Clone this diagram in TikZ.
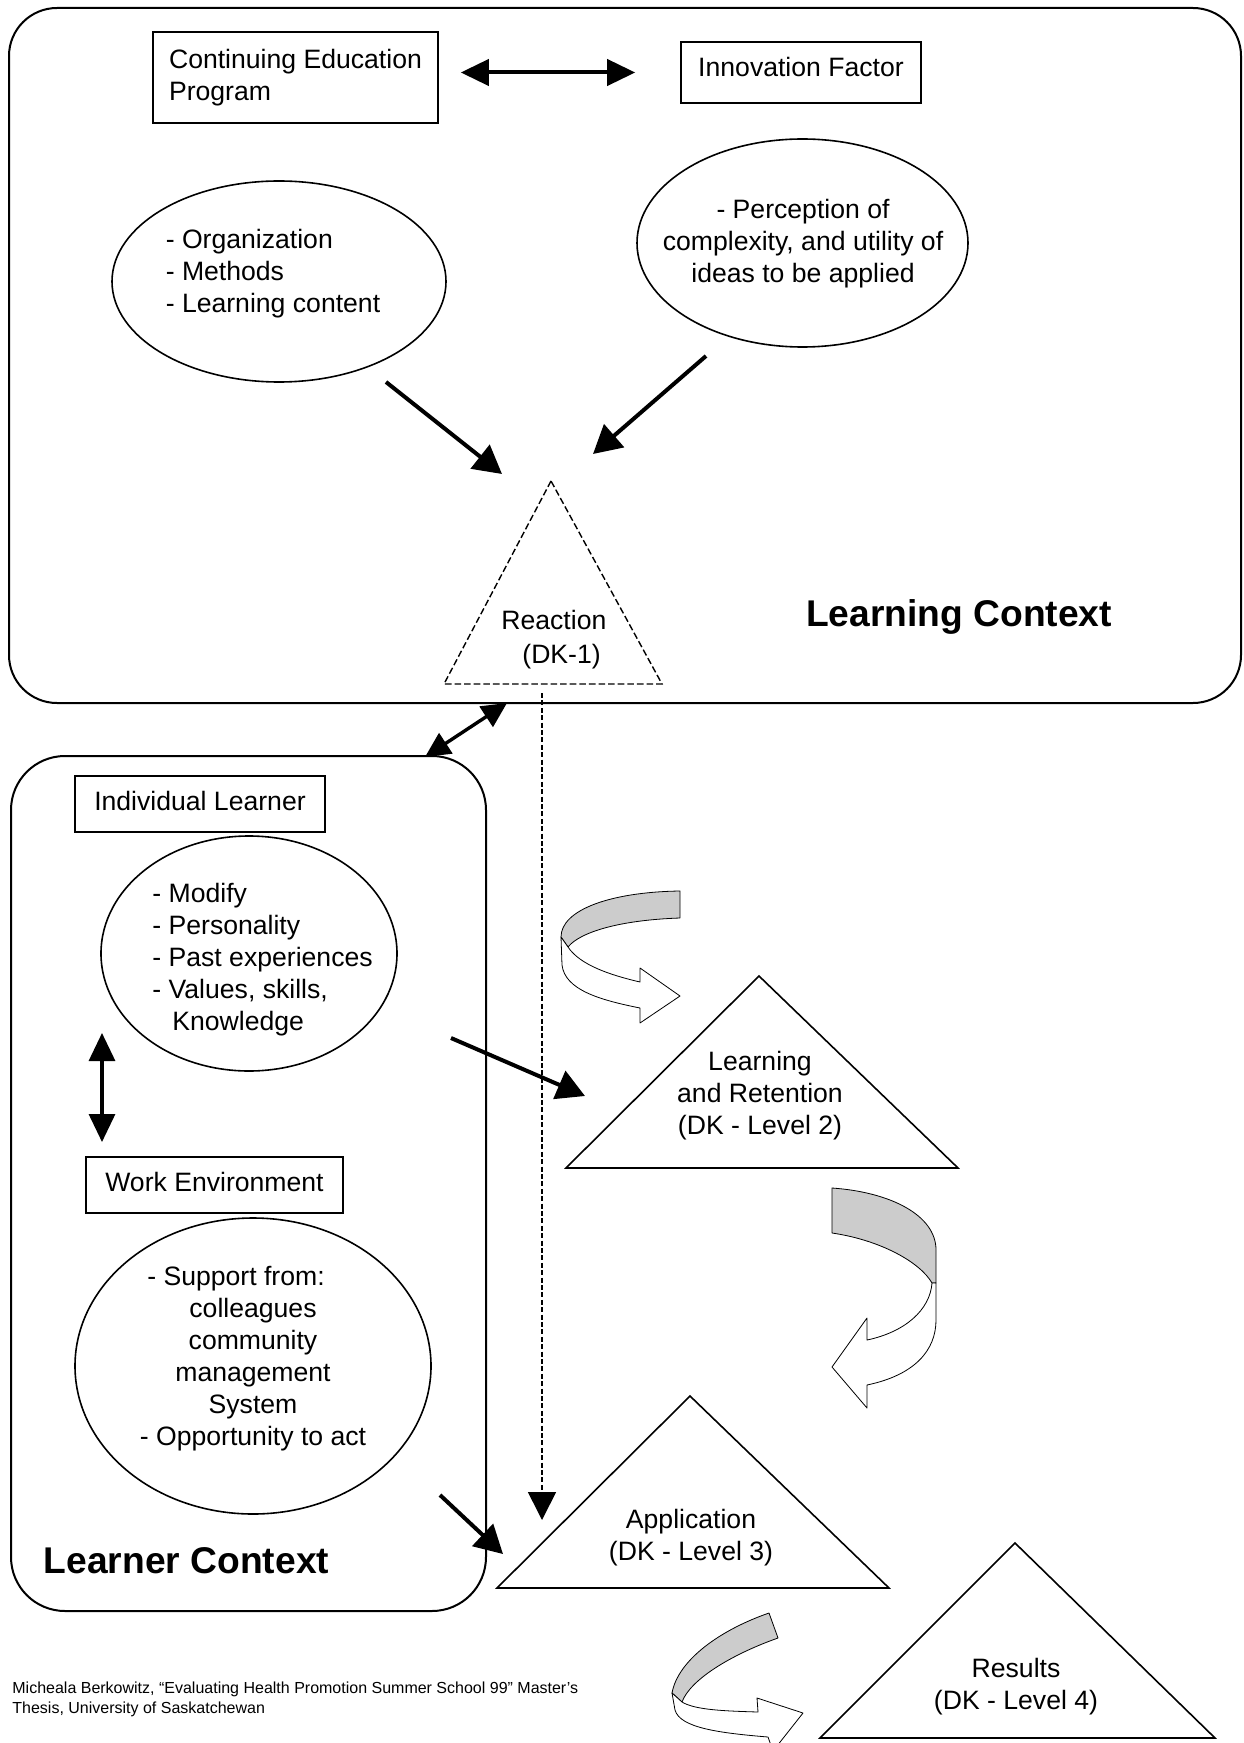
\documentclass[tikz,border=0pt]{standalone}
\usepackage{fontspec}
\setmainfont{Liberation Sans}
\usetikzlibrary{arrows.meta}
\usetikzlibrary{shapes.geometric}
\definecolor{ribbongray}{gray}{0.8}

\begin{document}
\begin{tikzpicture}[x=0.5pt, y=-0.5pt,
	font=\fontsize{13.3pt}{16pt}\selectfont,
	every node/.style={inner sep=0pt},
	ctxframe/.style={draw, line width=1pt},
	labelbox/.style={draw, line width=0.8pt, rectangle, text depth=3pt},
	oval/.style={draw, line width=0.8pt, ellipse},
	ctxtitle/.style={font=\fontsize{18.6pt}{22pt}\selectfont\bfseries},
	tri/.style={draw, line width=0.8pt},
	flow/.style={line width=2pt, -{Triangle[length=14pt, width=15pt]}},
	twoway/.style={line width=2pt, {Triangle[length=14pt, width=13pt]}-{Triangle[length=14pt, width=13pt]}},
	ribbon/.style={draw, line width=0.4pt, line join=round}]

	\useasboundingbox (0,0) rectangle (1243,1743);

	% the two contexts
	\node[ctxframe, rounded corners=24pt, minimum width=616pt, minimum height=347.5pt] (learning) at (625,355.5) {};
	\node[ctxframe, rounded corners=27pt, minimum width=237.5pt, minimum height=427.5pt] (learner) at (248.5,1183.5) {};
	\node[ctxtitle] (lrnctx) at (959,617) {Learning Context};
	\node[ctxtitle] (lrnrctx) at (186.5,1561) {Learner Context};

	% learning context
	\node[labelbox, minimum width=142.5pt, minimum height=45.5pt, align=left] (cep) at (295.5,77.5) {Continuing Education\\Program};
	\node[labelbox, text depth=6pt, minimum width=120pt, minimum height=30.5pt] (innov) at (801,72.5) {Innovation Factor};
	\draw[twoway, shorten <=11pt, shorten >=22.5pt] (cep.east |- innov.west) -- (innov.west);

	\node[oval, minimum width=167pt, minimum height=100.5pt] (org) at (279,281.5) {};
	\node[align=left] (orgtxt) at (273,274) {- Organization\\- Methods\\- Learning content};
	\node[oval, minimum width=165.5pt, minimum height=104pt] (percep) at (802.5,243) {};
	\node[align=center] (perceptxt) at (803,244) {- Perception of\\complexity, and utility of\\ideas to be applied};

	\coordinate (reacA) at (551,481);
	\coordinate (reacL) at (444,684);
	\coordinate (reacR) at (662,684);
	\draw[tri, line width=0.7pt, dash pattern=on 3.3pt off 1.5pt] (reacA) -- (reacL) -- (reacR) -- cycle;
	\node[align=left, anchor=west, font=\fontsize{13.3pt}{17pt}\selectfont] (reactxt) at (501,640) {Reaction\\\hspace*{10.5pt}(DK-1)};

	\coordinate (orgout) at (386,382);
	\coordinate (reacin) at (502,474);
	\coordinate (percout) at (706,356);
	\coordinate (reacin2) at (593,454);
	\draw[flow] (orgout) -- (reacin);
	\draw[flow] (percout) -- (reacin2);

	% learner context
	\node[labelbox, minimum width=125pt, minimum height=28pt] (indiv) at (200,804) {Individual Learner};
	\node[oval, minimum width=148pt, minimum height=117.5pt] (person) at (249,953.5) {};
	\node[align=left, anchor=west] (persontxt) at (152,959.5) {- Modify\\- Personality\\- Past experiences\\- Values, skills,\\\hspace*{10pt}Knowledge};

	\node[labelbox, minimum width=128.5pt, minimum height=28pt] (work) at (214.5,1185) {Work Environment};
	\node[oval, minimum width=178pt, minimum height=148pt] (support) at (253,1366) {};
	\node[align=center] (supporttxt) at (253,1358.5) {- Support from:\kern17pt\\colleagues\\community\\management\\System\\- Opportunity to act};

	\coordinate (persbelow) at (102,1033);
	\coordinate (workabove) at (102,1142);
	\draw[twoway, line width=1.6pt] (persbelow) -- (workabove);

	\coordinate (linkA) at (507,703);
	\coordinate (linkB) at (425,757);
	\draw[line width=1.7pt, {Triangle[length=12.5pt, width=12pt]}-{Triangle[length=12.5pt, width=12pt]}] (linkA) -- (linkB);

	% levels
	\coordinate (learnA) at (759,976);
	\coordinate (learnL) at (566,1168);
	\coordinate (learnR) at (958,1168);
	\draw[tri] (learnA) -- (learnL) -- (learnR) -- cycle;
	\node[align=center] (learntxt) at (760,1096) {Learning\\and Retention\\(DK - Level 2)};

	\coordinate (applA) at (690,1396);
	\coordinate (applL) at (497,1588);
	\coordinate (applR) at (889,1588);
	\draw[tri] (applA) -- (applL) -- (applR) -- cycle;
	\node[align=center] (appltxt) at (691,1538) {Application\\(DK - Level 3)};

	\coordinate (resA) at (1015,1543);
	\coordinate (resL) at (820,1738);
	\coordinate (resR) at (1215,1738);
	\draw[tri] (resA) -- (resL) -- (resR) -- cycle;
	\node[align=center] (restxt) at (1016,1687) {Results\\(DK - Level 4)};

	\coordinate (persout) at (451,1038);
	\coordinate (learnin) at (585,1096);
	\coordinate (suppout) at (440,1495);
	\coordinate (applin) at (503,1554);
	\draw[flow] (persout) -- (learnin);
	\draw[flow] (suppout) -- (applin);

	\coordinate (reacout) at (542,693);
	\coordinate (applin2) at (542,1520);
	\draw[line width=0.8pt, dash pattern=on 2.5pt off 1.2pt, -{Triangle[length=14pt, width=14pt]}] (reacout) -- (applin2);

	% turning ribbons
	\begin{scope}[shift={(561,891)}]
		\filldraw[ribbon, fill=ribbongray] (119,0) .. controls (49,1) and (0,19) .. (0,46) -- (7,56) .. controls (19,41) and (59,29) .. (119,27) -- cycle;
		\filldraw[ribbon, fill=white] (7,56) .. controls (19,74) and (49,84) .. (79,91) -- (79,77) -- (119,105) -- (79,132) -- (79,117) .. controls (39,109) and (4,99) .. (1,74) -- (0,46) -- cycle;
	\end{scope}

	\begin{scope}[shift={(832,1188)}]
		\filldraw[ribbon, fill=ribbongray] (0,0) .. controls (58,4) and (104,27) .. (104,62) -- (104,95) -- (100,95) .. controls (88,74) and (48,52) .. (0,45) -- cycle;
		\filldraw[ribbon, fill=white] (100,95) .. controls (98,122) and (73,144) .. (35,152) -- (35,130) -- (0,179) -- (35,220) -- (35,197) .. controls (83,187) and (104,162) .. (104,132) -- (104,95) -- cycle;
	\end{scope}

	\begin{scope}[shift={(672,1613)}]
		\filldraw[ribbon, fill=ribbongray] (97,0) .. controls (48,17) and (6,47) .. (0,80) -- (10,89) .. controls (18,67) and (58,42) .. (106,25) -- cycle;
		\filldraw[ribbon, fill=white] (10,89) .. controls (23,97) and (53,98) .. (86,99) -- (85,85) -- (131,100) -- (101,138) -- (96,124) .. controls (48,120) and (8,115) .. (3,97) -- (0,80) -- cycle;
	\end{scope}

	\node[align=left, anchor=west, font=\fontsize{8pt}{10pt}\selectfont] (source) at (12,1699) {Micheala Berkowitz, “Evaluating Health Promotion Summer School 99” Master’s\\Thesis, University of Saskatchewan};
\end{tikzpicture}
\end{document}
